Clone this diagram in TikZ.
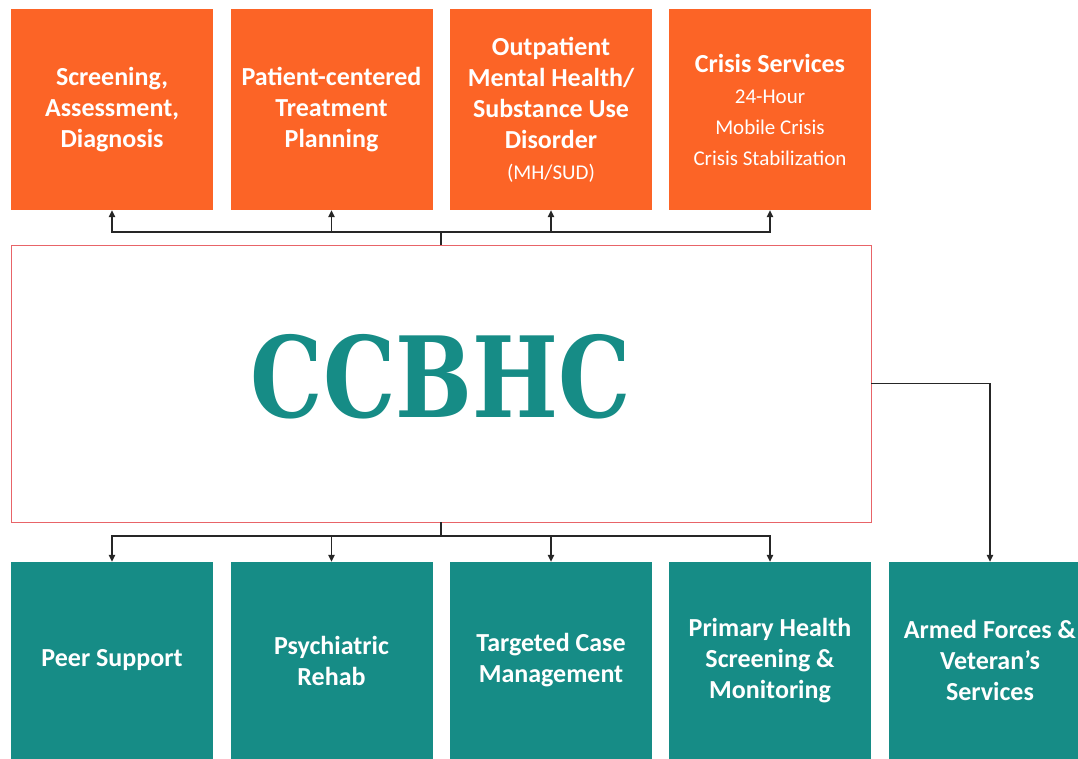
\documentclass[tikz,border=0pt]{standalone}
\usepackage{fontspec}
\setmainfont{Carlito}
\newfontfamily\slabfont{DejaVu Serif}
\usetikzlibrary{arrows.meta}
\definecolor{ccorange}{RGB}{252,100,38}
\definecolor{ccteal}{RGB}{22,140,134}
\definecolor{ccred}{RGB}{232,100,104}
\newcommand{\subtxt}{\mdseries\fontsize{21}{29}\selectfont}
\tikzset{
	topbox/.style={fill=ccorange, minimum width=202pt, minimum height=201pt, inner sep=0pt,
		text=white, align=center, font=\bfseries\fontsize{26}{31}\selectfont},
	botbox/.style={topbox, fill=ccteal, minimum height=197pt},
	link/.style={draw=black!85, line width=1.1pt},
	arr/.style={link, -{Triangle[length=7pt,width=6.5pt]}}
}
\begin{document}
\begin{tikzpicture}[x=1pt,y=-1pt]
			\useasboundingbox (0,0) rectangle (1078,759);
			%%%%%%%%%%%%%%%%%%%%%%%%%%%%%%%% top row
			\node[topbox] (screen) at (112,109.5){Screening,\\ Assessment,\\ Diagnosis};
			\node[topbox] (plan) at (331.5,109.5){Patient-centered\\ Treatment\\ Planning};
			\node[topbox] (outpt) at (551,109.5){Outpatient\\ Mental Health/\\ Substance Use\\ Disorder\\ \subtxt(MH/SUD)};
			\node[topbox] (crisis) at (770,109.5){Crisis Services\\ \subtxt 24-Hour\\ \subtxt Mobile Crisis\\ \subtxt Crisis Stabilization};
			%%%%%%%%%%%%%%%%%%%%%%%%%%%%%%%% centre
			\node[draw=ccred, line width=0.9pt, minimum width=860pt, minimum height=277pt] (ccbhc) at (441,383.5){};
			\node[anchor=base, text=ccteal, font=\slabfont\bfseries\fontsize{100}{100}\selectfont] (logo) at (441,417){\scalebox{0.91}[1.12]{CCBHC}};
			%%%%%%%%%%%%%%%%%%%%%%%%%%%%%%%% bottom row
			\node[botbox] (peer) at (112,660.5){Peer Support};
			\node[botbox] (rehab) at (331.5,660.5){Psychiatric\\ Rehab};
			\node[botbox] (case) at (551,660.5){Targeted Case\\ Management};
			\node[botbox] (primary) at (770,660.5){Primary Health\\ Screening \&\\ Monitoring};
			\node[botbox] (vets) at (990,660.5){Armed Forces \&\\ Veteran’s\\ Services};
			%%%%%%%%%%%%%%%%%%%%%%%%%%%%%%%% connectors
			\coordinate (topbus) at (441,232);
			\coordinate (botbus) at (441,536);
			\draw[link] (ccbhc.north)--(topbus);
			\foreach \n in {screen,plan,outpt,crisis}
				\draw[arr] (topbus) -| (\n.south);
			\draw[link] (ccbhc.south)--(botbus);
			\foreach \n in {peer,rehab,case,primary}
				\draw[arr] (botbus) -| (\n.north);
			\draw[arr] (ccbhc.east) -| (vets.north);
		\end{tikzpicture}
\end{document}
